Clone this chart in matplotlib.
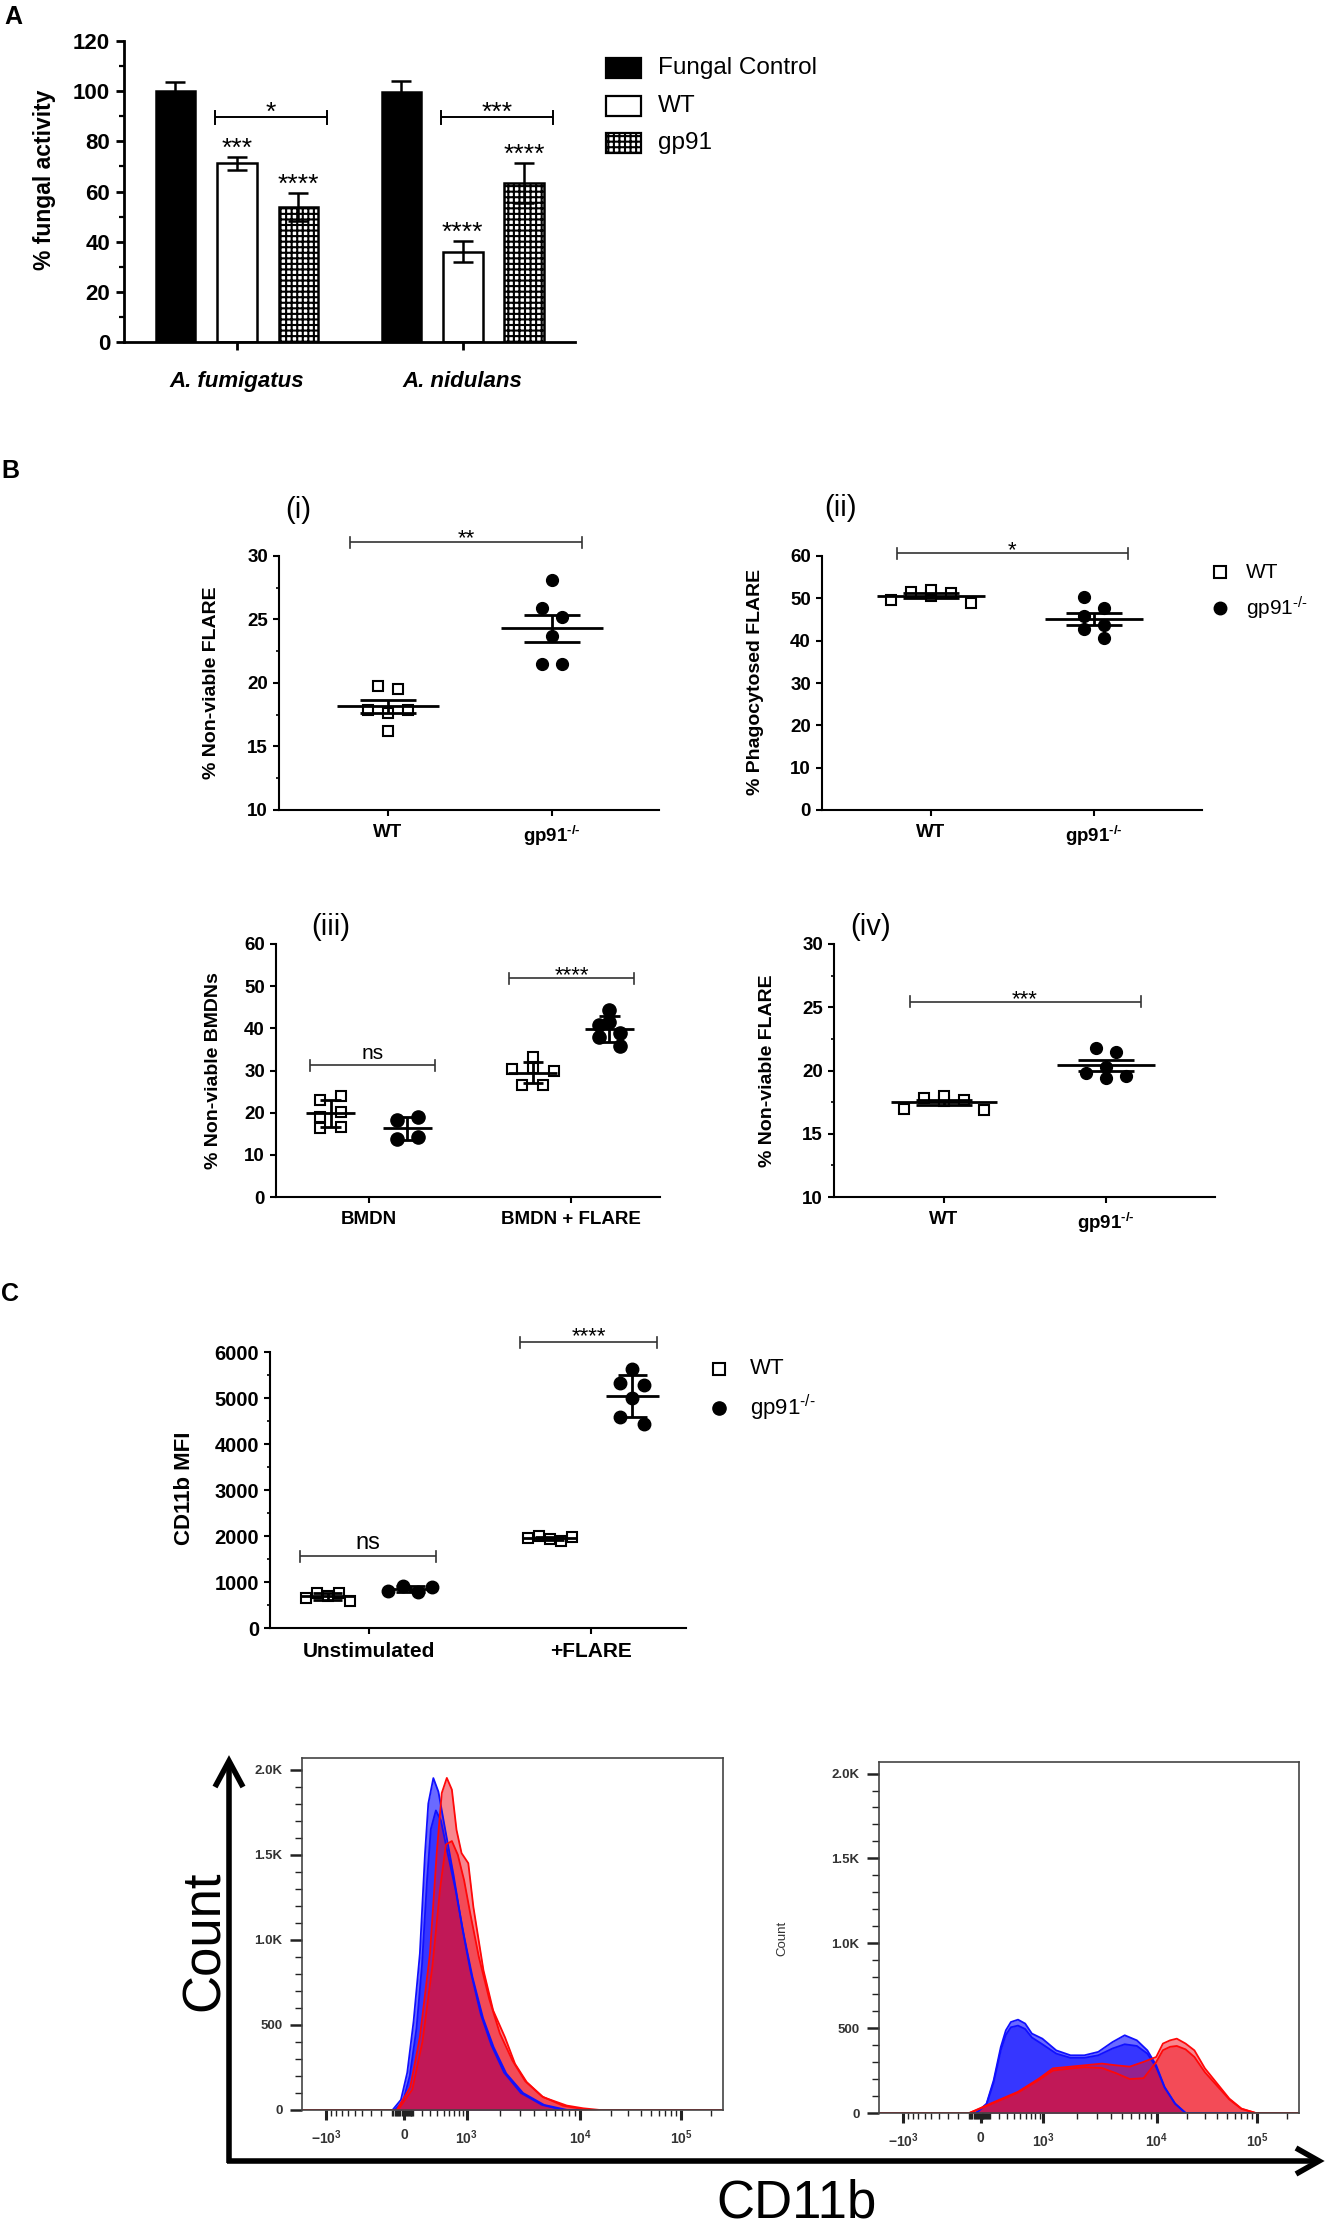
import numpy as np
import matplotlib
matplotlib.use('Agg')
import matplotlib.pyplot as plt
from matplotlib.patches import Rectangle
from matplotlib.lines import Line2D

plt.rcParams['font.family'] = ['Liberation Sans', 'DejaVu Sans']
plt.rcParams['mathtext.default'] = 'regular'
plt.rcParams['hatch.linewidth'] = 1.5

# ---------------------------------------------------------------- data
# Panel A : % fungal activity (mean, error)
a_species = ['A. fumigatus', 'A. nidulans']
a_series = ['Fungal Control', 'WT', 'gp91']
a_control_mean = [100.0, 99.6]
a_control_err = [3.5, 4.5]
a_wt_mean = [71.2, 36.0]
a_wt_err = [2.6, 4.3]
a_gp91_mean = [53.8, 63.4]
a_gp91_err = [5.6, 8.0]
a_wt_stars = ['***', '****']
a_gp91_stars = ['****', '****']
a_pair_stars = ['*', '***']
a_yticks = [0, 20, 40, 60, 80, 100, 120]

# Panel B(i) % non-viable FLARE
GP = 'gp91$^{\u2010/\u2010}$'
b1_groups = ['WT', GP]
b1_wt = [19.8, 19.5, 17.9, 17.65, 17.9, 16.2]
b1_gp91 = [28.1, 25.9, 25.2, 23.7, 21.5, 21.5]
b1_stars = '**'
# Panel B(ii) % phagocytosed FLARE
b2_wt = [49.6, 51.6, 50.6, 51.2, 52.0, 49.0]
b2_gp91 = [50.2, 47.8, 45.9, 43.7, 42.7, 40.6]
b2_stars = '*'
# Panel B(iii) % non-viable BMDNs
b3_groups = ['BMDN', 'BMDN + FLARE']
b3_wt = [[23.0, 24.0, 18.9, 20.1, 16.3, 16.7], [33.3, 30.3, 30.5, 29.8, 26.6, 26.6]]
b3_gp91 = [[18.3, 18.9, 13.7, 14.2], [44.4, 41.4, 40.7, 38.8, 38.0, 35.8]]
b3_stars = ['ns', '****']
# Panel B(iv) % non-viable FLARE
b4_wt = [16.95, 17.8, 17.6, 17.7, 18.0, 16.9]
b4_gp91 = [21.8, 21.5, 20.3, 19.8, 19.4, 19.6]
b4_stars = '***'
# Panel C CD11b MFI
c_groups = ['Unstimulated', '+FLARE']
c_wt = [[650, 760, 700, 760, 580], [1950, 1990, 1930, 1900, 1970]]
c_gp91 = [[800, 920, 780, 900], [5640, 5330, 5280, 4990, 4590, 4430]]
c_stars = ['ns', '****']

# Flow histograms (x in display channel 0-1000, y = count)
hist_tick_values = [-1e3, 0, 1e3, 1e4, 1e5]
hist_tick_labels = ['$-10^{3}$', '0', '$10^{3}$', '$10^{4}$', '$10^{5}$']
hist_anchor_vals = [-1e3, 0, 1e3, 1e4, 1e5, 1e6]
hist_anchor_ch = [58, 242, 391, 661, 900, 1139]
# unstimulated
u_blue1_ch = [0, 215, 235, 250, 265, 280, 292, 300, 312, 324, 340, 360, 380, 400, 425, 450, 480, 520, 570, 620, 1000]
u_blue1_ct = [0, 0, 60, 220, 520, 920, 1500, 1800, 1950, 1870, 1650, 1380, 1080, 820, 560, 380, 220, 100, 30, 0, 0]
u_blue2_ch = [0, 220, 240, 256, 272, 285, 297, 306, 318, 330, 345, 365, 385, 405, 430, 455, 485, 525, 575, 630, 1000]
u_blue2_ct = [0, 0, 50, 200, 480, 850, 1350, 1650, 1760, 1700, 1520, 1290, 1020, 780, 540, 370, 215, 100, 30, 0, 0]
u_red1_ch = [0, 225, 257, 280, 304, 320, 332, 344, 356, 367, 379, 395, 407, 431, 454, 482, 506, 534, 573, 629, 668, 708, 1000]
u_red1_ct = [0, 0, 134, 428, 920, 1509, 1862, 1951, 1882, 1646, 1509, 1450, 1194, 821, 585, 428, 271, 163, 75, 26, 10, 0, 0]
u_red2_ch = [0, 228, 262, 286, 310, 328, 342, 356, 370, 385, 400, 420, 445, 470, 500, 530, 570, 620, 680, 1000]
u_red2_ct = [0, 0, 120, 400, 850, 1300, 1560, 1580, 1500, 1350, 1150, 900, 650, 450, 290, 170, 80, 25, 0, 0]
# + FLARE
f_blue_ch = [0, 231, 256, 273, 290, 302, 314, 331, 348, 364, 389, 422, 456, 489, 522, 556, 585, 614, 639, 660, 680, 705, 730, 1000]
f_blue1_ct = [0, 0, 55, 193, 389, 487, 536, 550, 527, 468, 438, 369, 340, 340, 360, 418, 458, 428, 369, 281, 153, 55, 0, 0]
f_blue2_ct = [0, 0, 50, 180, 370, 460, 505, 515, 495, 445, 405, 350, 325, 325, 340, 380, 405, 395, 350, 270, 150, 55, 0, 0]
f_red_ch = [0, 215, 265, 331, 381, 414, 456, 489, 531, 564, 597, 630, 660, 676, 693, 709, 730, 751, 776, 805, 834, 863, 897, 1000]
f_red1_ct = [0, 0, 55, 125, 203, 263, 273, 281, 291, 281, 273, 301, 330, 409, 428, 438, 409, 369, 263, 174, 85, 26, 0, 0]
f_red2_ct = [0, 0, 50, 120, 195, 250, 262, 270, 265, 235, 200, 205, 300, 370, 390, 395, 375, 330, 240, 160, 80, 24, 0, 0]

# ---------------------------------------------------------------- figure
W, H = 1328, 2225
fig = plt.figure(figsize=(W / 100, H / 100), dpi=100)
fig.patch.set_facecolor('white')


def box(l, t, r, b):
    return fig.add_axes([l / W, 1 - b / H, (r - l) / W, (b - t) / H])


def ftext(x, y, s, **kw):
    return fig.text(x / W, 1 - y / H, s, **kw)


def vis_text(ax, x, y, s, fs, kind='star', **kw):
    k = 0.57 if kind == 'star' else 0.26
    ax.annotate(s, (x, y), xytext=(0, -k * fs), textcoords='offset points',
                ha='center', va='baseline', fontsize=fs, annotation_clip=False, **kw)


def px_per_unit_y(ax):
    return ax.transData.transform((0, 1))[1] - ax.transData.transform((0, 0))[1]


def bracket(ax, x0, x1, y, tick_px, lw, color):
    d = tick_px / px_per_unit_y(ax)
    ax.plot([x0, x1], [y, y], color=color, lw=lw, clip_on=False, solid_capstyle='butt')
    for xx in (x0, x1):
        ax.plot([xx, xx], [y - d, y + d], color=color, lw=lw, clip_on=False)


def swarm(ax, xc, vals, spacing_px, row_px, maxw_px=None):
    vals = np.asarray(vals, float)
    ypx = ax.transData.transform(np.c_[np.full(len(vals), xc), vals])[:, 1]
    ppu = ax.transData.transform((xc + 1, 0))[0] - ax.transData.transform((xc, 0))[0]
    order = np.argsort(ypx, kind='stable')
    rows, cur = [], [order[0]]
    for i in order[1:]:
        if ypx[i] - ypx[cur[0]] < row_px:
            cur.append(i)
        else:
            rows.append(cur)
            cur = [i]
    rows.append(cur)
    xs = np.zeros(len(vals))
    for r in rows:
        n = len(r)
        sp = spacing_px
        if maxw_px is not None and n > 1 and (n - 1) * sp > maxw_px:
            sp = maxw_px / (n - 1)
        for k, i in enumerate(sorted(r)):
            xs[i] = xc + (k - (n - 1) / 2) * sp / ppu
    return xs


def group(ax, xc, vals, marker, err, mean_hw, cap_hw, ms, spacing_px, row_px, maxw_px=None):
    vals = np.asarray(vals, float)
    xs = swarm(ax, xc, vals, spacing_px, row_px, maxw_px)
    if marker == 's':
        ax.plot(xs, vals, 's', mfc='white', mec='black', mew=1.5, ms=ms, ls='none', zorder=3, clip_on=False)
    else:
        ax.plot(xs, vals, 'o', color='black', ms=ms, ls='none', zorder=3, clip_on=False)
    m = vals.mean()
    e = vals.std(ddof=1)
    if err == 'sem':
        e = e / np.sqrt(len(vals))
    ax.hlines(m, xc - mean_hw, xc + mean_hw, color='black', lw=2, zorder=4)
    ax.hlines([m - e, m + e], xc - cap_hw, xc + cap_hw, color='black', lw=2, zorder=4)
    ax.vlines(xc, m - e, m + e, color='black', lw=2, zorder=4)


def style_scatter_ax(ax, xlim, ylim, yticks, yminor, xlabels, tfs, xfs, lw=1.5):
    ax.set_xlim(*xlim)
    ax.set_ylim(*ylim)
    for s in ('top', 'right'):
        ax.spines[s].set_visible(False)
    for s in ('left', 'bottom'):
        ax.spines[s].set_linewidth(lw)
    ax.set_yticks(yticks)
    ax.set_yticklabels([str(v) for v in yticks], fontsize=tfs, fontweight='bold')
    if yminor:
        ax.set_yticks(yminor, minor=True)
    ax.set_xticks(range(len(xlabels)))
    ax.set_xticklabels(xlabels, fontsize=xfs, fontweight='bold')
    ax.tick_params(axis='y', which='major', length=4, width=lw, pad=4)
    ax.tick_params(axis='y', which='minor', length=2.5, width=1.2)
    ax.tick_params(axis='x', which='major', length=4, width=lw, pad=6)
    ax.set_facecolor('none')


# ---------------------------------------------------------------- Panel A
ftext(13, 17, 'A', fontsize=18, fontweight='bold', ha='center', va='center')
axA = box(124, 41, 575, 342)
axA.set_xlim(-0.50, 1.497)
axA.set_ylim(0, 120)
xa = np.arange(len(a_species))
off, bw = 0.272, 0.175
CHECK = '+++'
axA.bar(xa - off, a_control_mean, bw, color='black', edgecolor='black', lw=1.8, zorder=2)
axA.bar(xa, a_wt_mean, bw, color='white', edgecolor='black', lw=1.8, zorder=2)
axA.bar(xa + off, a_gp91_mean, bw, color='white', edgecolor='black', lw=1.8, hatch=CHECK, zorder=2)
for xs_, m_, e_ in ((xa - off, a_control_mean, a_control_err), (xa, a_wt_mean, a_wt_err),
                    (xa + off, a_gp91_mean, a_gp91_err)):
    axA.errorbar(xs_, m_, yerr=e_, fmt='none', ecolor='black', elinewidth=1.8, capsize=7.5,
                 capthick=1.8, zorder=3)
for i in range(len(a_species)):
    vis_text(axA, xa[i], a_wt_mean[i] + a_wt_err[i] + 6.5, a_wt_stars[i], 19)
    vis_text(axA, xa[i] + off, a_gp91_mean[i] + a_gp91_err[i] + 6.3, a_gp91_stars[i], 19)
    bracket(axA, xa[i] - 0.097, xa[i] + 0.399, 89.7, 6.5, 1.4, 'black')
    vis_text(axA, xa[i] + 0.151, 94.7, a_pair_stars[i], 19)
for s in ('top', 'right'):
    axA.spines[s].set_visible(False)
for s in ('left', 'bottom'):
    axA.spines[s].set_linewidth(2)
axA.set_yticks(a_yticks)
axA.set_yticklabels([str(v) for v in a_yticks], fontsize=16, fontweight='bold')
axA.set_yticks(np.arange(10, 120, 20), minor=True)
axA.set_xticks(xa)
axA.set_xticklabels(a_species, fontsize=16, fontweight='bold', fontstyle='italic')
axA.tick_params(axis='y', which='major', length=6, width=2, pad=4)
axA.tick_params(axis='y', which='minor', length=3.5, width=1.6)
axA.tick_params(axis='x', length=6, width=2, pad=15)
ftext(45, 180, '% fungal activity', fontsize=16.5, fontweight='bold', rotation=90, ha='center', va='center')
# legend A
leg_y = [68, 106, 143]
leg_style = [dict(facecolor='black', edgecolor='black'), dict(facecolor='white', edgecolor='black'),
             dict(facecolor='white', edgecolor='black', hatch=CHECK)]
for yy, name, st in zip(leg_y, a_series, leg_style):
    fig.add_artist(Rectangle((606 / W, 1 - (yy + 10) / H), 35 / W, 20 / H, transform=fig.transFigure,
                             lw=1.6, **st))
    ftext(658, yy, name, fontsize=17.5, ha='left', va='center')

# ---------------------------------------------------------------- Panel B
ftext(10, 471, 'B', fontsize=18, fontweight='bold', ha='center', va='center')
B_TFS, B_XFS, B_YL = 13.5, 13.5, 14
B_STAR = 16

# (i)
ax1 = box(279, 556, 659, 810)
style_scatter_ax(ax1, (-0.665, 1.652), (10, 30), [10, 15, 20, 25, 30], [12.5, 17.5, 22.5, 27.5],
                 b1_groups, B_TFS, B_XFS)
group(ax1, 0, b1_wt, 's', 'sem', 0.31, 0.17, 7.5, 20, 12)
group(ax1, 1, b1_gp91, 'o', 'sem', 0.31, 0.17, 8.5, 20, 12)
bracket(ax1, -0.23, 1.18, 31.1, 5.5, 1.2, '#333333')
vis_text(ax1, 0.475, 31.9, b1_stars, B_STAR)
ftext(212, 683, '% Non-viable FLARE', fontsize=B_YL, fontweight='bold', rotation=90, ha='center', va='center')
ftext(298, 510, '(i)', fontsize=21, ha='center', va='center')

# (ii)
ax2 = box(822, 556, 1202, 810)
style_scatter_ax(ax2, (-0.669, 1.663), (0, 60), [0, 10, 20, 30, 40, 50, 60], None,
                 b1_groups, B_TFS, B_XFS)
group(ax2, 0, b2_wt, 's', 'sem', 0.33, 0.17, 7.5, 20, 12)
group(ax2, 1, b2_gp91, 'o', 'sem', 0.30, 0.17, 8.5, 20, 12)
bracket(ax2, -0.206, 1.207, 60.66, 5.5, 1.2, '#333333')
vis_text(ax2, 0.5, 63.0, b2_stars, B_STAR)
ftext(755, 682, '% Phagocytosed FLARE', fontsize=B_YL, fontweight='bold', rotation=90, ha='center', va='center')
ftext(840, 508, '(ii)', fontsize=21, ha='center', va='center')
# legend (ii)
fig.add_artist(Line2D([1220 / W], [1 - 572 / H], marker='s', mfc='white', mec='black', mew=1.5, ms=8,
                      ls='none', transform=fig.transFigure))
fig.add_artist(Line2D([1220 / W], [1 - 608 / H], marker='o', color='black', ms=9, ls='none',
                      transform=fig.transFigure))
ftext(1246, 572, 'WT', fontsize=15, ha='left', va='center')
ftext(1246, 608, GP, fontsize=15, ha='left', va='center')

# (iii)
ax3 = box(276, 944, 660, 1197)
style_scatter_ax(ax3, (-0.46, 1.44), (0, 60), [0, 10, 20, 30, 40, 50, 60], None,
                 b3_groups, B_TFS, B_XFS)
for i in range(len(b3_groups)):
    group(ax3, i - 0.19, b3_wt[i], 's', 'sd', 0.12, 0.05, 7.5, 21, 10.5)
    group(ax3, i + 0.19, b3_gp91[i], 'o', 'sd', 0.12, 0.05, 9.5, 21, 10.5)
bracket(ax3, -0.294, 0.326, 31.3, 5.5, 1.2, '#333333')
vis_text(ax3, 0.016, 34.1, b3_stars[0], 15, kind='ns')
bracket(ax3, 0.691, 1.313, 51.9, 5.5, 1.2, '#333333')
vis_text(ax3, 1.002, 54.2, b3_stars[1], B_STAR)
ftext(213, 1071, '% Non-viable BMDNs', fontsize=B_YL, fontweight='bold', rotation=90, ha='center', va='center')
ftext(331, 927, '(iii)', fontsize=21, ha='center', va='center')

# (iv)
ax4 = box(834, 944, 1215, 1197)
style_scatter_ax(ax4, (-0.679, 1.673), (10, 30), [10, 15, 20, 25, 30], [12.5, 17.5, 22.5, 27.5],
                 b1_groups, B_TFS, B_XFS)
group(ax4, 0, b4_wt, 's', 'sem', 0.33, 0.17, 7.5, 20, 12)
group(ax4, 1, b4_gp91, 'o', 'sem', 0.30, 0.17, 8.5, 20, 11)
bracket(ax4, -0.207, 1.214, 25.44, 5.5, 1.2, '#333333')
vis_text(ax4, 0.5, 26.2, b4_stars, B_STAR)
ftext(768, 1071, '% Non-viable FLARE', fontsize=B_YL, fontweight='bold', rotation=90, ha='center', va='center')
ftext(871, 927, '(iv)', fontsize=21, ha='center', va='center')

# ---------------------------------------------------------------- Panel C
ftext(10, 1294, 'C', fontsize=18, fontweight='bold', ha='center', va='center')
axC = box(270, 1352, 686, 1628)
style_scatter_ax(axC, (-0.446, 1.428), (0, 6000), [0, 1000, 2000, 3000, 4000, 5000, 6000],
                 [500, 1500, 2500, 3500, 4500, 5500], c_groups, 14.5, 15)
for i in range(len(c_groups)):
    group(axC, i - 0.186, c_wt[i], 's', 'sd', 0.12, 0.065, 7.5, 24, 12, 44)
    group(axC, i + 0.186, c_gp91[i], 'o', 'sd', 0.12, 0.065, 9, 24, 12, 44)
bracket(axC, -0.31, 0.30, 1565, 5.5, 1.2, '#333333')
vis_text(axC, -0.005, 1848, c_stars[0], 17, kind='ns')
bracket(axC, 0.682, 1.296, 6211, 5.5, 1.2, '#333333')
vis_text(axC, 0.989, 6478, c_stars[1], B_STAR)
ftext(184, 1488, 'CD11b MFI', fontsize=16, fontweight='bold', rotation=90, ha='center', va='center')
fig.add_artist(Line2D([719 / W], [1 - 1369 / H], marker='s', mfc='white', mec='black', mew=1.5, ms=8,
                      ls='none', transform=fig.transFigure))
fig.add_artist(Line2D([719 / W], [1 - 1408 / H], marker='o', color='black', ms=9.5, ls='none',
                      transform=fig.transFigure))
ftext(750, 1369, 'WT', fontsize=16, ha='left', va='center')
ftext(750, 1408, GP, fontsize=16, ha='left', va='center')


# ---------------------------------------------------------------- flow histograms
def to_ch(v):
    v = np.asarray(v, float)
    return np.interp(np.arcsinh(v / 400.0), np.arcsinh(np.array(hist_anchor_vals) / 400.0), hist_anchor_ch)


hist_minor_vals = (list(np.arange(-900, 0, 100)) + list(np.arange(-90, 100, 10)) + list(np.arange(100, 1000, 100))
                   + list(np.arange(2e3, 1e4, 1e3)) + list(np.arange(2e4, 1e5, 1e4)) + [2e5])

BLUE_F, BLUE_L = '#1a1aff', '#1010ff'
RED_F, RED_L = '#f01020', '#ff0808'


def hist_ax(ax, curves):
    for ch, ct, kind in curves:
        if kind == 'b':
            ax.fill_between(ch, ct, color=BLUE_F, alpha=0.65, lw=0)
            ax.plot(ch, ct, color=BLUE_L, lw=1.3)
        else:
            ax.fill_between(ch, ct, color=RED_F, alpha=0.5, lw=0)
            ax.plot(ch, ct, color=RED_L, lw=1.3)
    ax.set_xlim(0, 1000)
    ax.set_ylim(0, 2068)
    for s in ax.spines.values():
        s.set_linewidth(1.2)
        s.set_color('#444444')
    ax.set_yticks([0, 500, 1000, 1500, 2000])
    ax.set_yticklabels(['0', '500', '1.0K', '1.5K', '2.0K'], fontsize=9.5, fontweight='bold', color='#333333')
    ax.set_yticks([v for v in range(100, 2000, 100) if v % 500], minor=True)
    ax.set_xticks(to_ch(hist_tick_values))
    ax.set_xticklabels(hist_tick_labels, fontsize=10, fontweight='bold', color='#333333')
    ax.set_xticks(to_ch(hist_minor_vals), minor=True)
    ax.tick_params(axis='y', which='major', length=9, width=1.8, pad=5, color='#222222')
    ax.tick_params(axis='y', which='minor', length=5, width=1.0, color='#222222')
    ax.tick_params(axis='x', which='major', length=7, width=2.2, pad=6, color='#222222')
    ax.tick_params(axis='x', which='minor', length=4, width=1.0, color='#222222')


axH1 = box(302, 1758, 723, 2110)
hist_ax(axH1, [(u_blue1_ch, u_blue1_ct, 'b'), (u_blue2_ch, u_blue2_ct, 'b'),
               (u_red1_ch, u_red1_ct, 'r'), (u_red2_ch, u_red2_ct, 'r')])
axH2 = box(879, 1762, 1299, 2113)
hist_ax(axH2, [(f_blue_ch, f_blue1_ct, 'b'), (f_blue_ch, f_blue2_ct, 'b'),
               (f_red_ch, f_red1_ct, 'r'), (f_red_ch, f_red2_ct, 'r')])
ftext(782, 1938, 'Count', fontsize=9.5, rotation=90, ha='center', va='center', color='#333333')


# big axis arrows
def fline(xs, ys, lw=4):
    fig.add_artist(Line2D([x / W for x in xs], [1 - y / H for y in ys], color='black', lw=lw,
                          transform=fig.transFigure, solid_capstyle='butt', solid_joinstyle='miter'))


fline([229, 229], [2163, 1764])
fline([215, 229, 243], [1787, 1761, 1787])
fline([227, 1316], [2161, 2161])
fline([1296, 1319, 1296], [2148, 2161, 2174])
ftext(205, 1941, 'Count', fontsize=38, rotation=90, ha='center', va='center')
ftext(797, 2203, 'CD11b', fontsize=38, ha='center', va='center')

fig.savefig('out.png', dpi=100, facecolor='white')
